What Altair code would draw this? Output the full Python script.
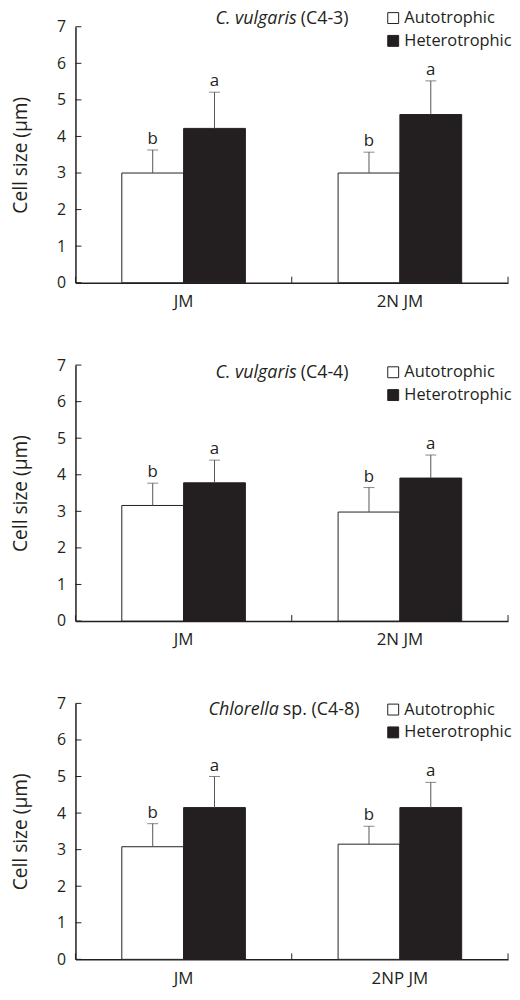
import altair as alt
import pandas as pd

FONT = "Open Sans"
DARK = "#231f20"

series = ["Autotrophic", "Heterotrophic"]
title_italic = ["C. vulgaris", "C. vulgaris", "Chlorella"]
title_rest = ["(C4-3)", "(C4-4)", "sp. (C4-8)"]
categories = [["JM", "2N JM"], ["JM", "2N JM"], ["JM", "2NP JM"]]
auto_mean = [[3.00, 3.00], [3.16, 2.98], [3.08, 3.15]]
auto_err = [[0.63, 0.57], [0.61, 0.67], [0.63, 0.49]]
het_mean = [[4.22, 4.60], [3.78, 3.91], [4.15, 4.15]]
het_err = [[0.99, 0.92], [0.62, 0.63], [0.85, 0.69]]
auto_letter = ["b", "b"]
het_letter = ["a", "a"]
y_ticks = [0, 1, 2, 3, 4, 5, 6, 7]

W, H = 436, 258
# layout positions (pixels relative to plot area)
title_y = [-8, 8, 7]
split_x = [223, 223, 205]
legend_x = 312


def panel(i):
    rows = []
    for j, c in enumerate(categories[i]):
        rows.append(dict(cat=c, series=series[0], mean=auto_mean[i][j],
                         top=auto_mean[i][j] + auto_err[i][j], letter=auto_letter[j]))
        rows.append(dict(cat=c, series=series[1], mean=het_mean[i][j],
                         top=het_mean[i][j] + het_err[i][j], letter=het_letter[j]))
    df = pd.DataFrame(rows)

    xsc = alt.Scale(domain=categories[i], paddingInner=0, paddingOuter=0)
    ysc = alt.Scale(domain=[0, 7], nice=False)
    xax = alt.Axis(title=None, labelAngle=0, ticks=False, tickSize=0,
                   labelPadding=11, labelFontSize=17, labelFont=FONT)
    yax = alt.Axis(values=y_ticks, tickCount=8, labelOverlap=False,
                   ticks=False, tickSize=0, labelPadding=10,
                   title="Cell size (μm)", titlePadding=26,
                   labelFontSize=16, titleFontSize=19.3, titleFontWeight="normal",
                   labelFont=FONT, titleFont=FONT)
    x = alt.X("cat:N", sort=categories[i], scale=xsc, axis=xax)
    xo = alt.XOffset("series:N", sort=series,
                     scale=alt.Scale(paddingInner=0, paddingOuter=0.75))
    y = alt.Y("mean:Q", scale=ysc, axis=yax)

    bars = alt.Chart().mark_bar(stroke=DARK, strokeWidth=1).encode(
        color=alt.Color("series:N", sort=series,
                        scale=alt.Scale(domain=series, range=["white", DARK]),
                        legend=alt.Legend(orient="none", legendX=legend_x,
                                          legendY=title_y[i] - 9, title=None)))
    err = alt.Chart().mark_rule(color="#555", strokeWidth=1).encode(y2="top:Q")
    cap = alt.Chart().transform_calculate(mean="datum.top").mark_tick(
        orient="horizontal", size=11, thickness=1, color="#555")
    lab = alt.Chart().transform_calculate(mean="datum.top").mark_text(
        baseline="bottom", dy=-2, fontSize=17, font=FONT, color=DARK).encode(text="letter:N")
    main = alt.layer(bars, err, cap, lab, data=df).encode(x=x, xOffset=xo, y=y)

    # inward tick marks on both axes
    tdf_y = pd.DataFrame({"mean": y_ticks})
    yt = alt.Chart(tdf_y).mark_rule(color=DARK, strokeWidth=1).encode(
        y=y, x=alt.value(0), x2=alt.value(6))
    cdf = pd.DataFrame({"cat": categories[i]})
    xt0 = alt.Chart(cdf).mark_rule(color=DARK, strokeWidth=1).encode(
        x=alt.X("cat:N", sort=categories[i], scale=xsc, axis=xax, bandPosition=0),
        y=alt.value(H), y2=alt.value(H - 6))
    xt1 = alt.Chart(cdf).transform_filter(
        alt.datum.cat == categories[i][-1]).mark_rule(color=DARK, strokeWidth=1).encode(
        x=alt.X("cat:N", sort=categories[i], scale=xsc, axis=xax, bandPosition=1),
        y=alt.value(H), y2=alt.value(H - 6))

    tdf = pd.DataFrame({"a": [title_italic[i]], "b": [title_rest[i]]})
    t1 = alt.Chart(tdf).mark_text(align="right", baseline="middle", fontStyle="italic",
                                  fontSize=18, font=FONT, color=DARK).encode(
        x=alt.value(split_x[i]), y=alt.value(title_y[i]), text="a:N")
    t2 = alt.Chart(tdf).mark_text(align="left", baseline="middle",
                                  fontSize=18, font=FONT, color=DARK).encode(
        x=alt.value(split_x[i] + 4), y=alt.value(title_y[i]), text="b:N")
    return alt.layer(main, yt, xt0, xt1, t1, t2).properties(width=W, height=H)


chart = alt.vconcat(panel(0), panel(1), panel(2), spacing=48).resolve_scale(
    color="independent"
).properties(padding={"left": 3, "top": -2, "right": 0, "bottom": 0}).configure_view(
    stroke=None
).configure_axis(
    grid=False, domainColor=DARK, tickColor=DARK, labelColor=DARK, titleColor=DARK,
    labelFont=FONT, titleFont=FONT, domainWidth=1.5,
    labelFontSize=16, titleFontSize=19.3, titleFontWeight="normal"
).configure_legend(
    symbolType="square", symbolSize=121, symbolStrokeColor=DARK, symbolStrokeWidth=1,
    labelFontSize=16.5, labelFont=FONT, labelColor=DARK, rowPadding=6, labelOffset=3,
    padding=0
)

chart.save("out.html", embed_options={"renderer": "svg", "actions": False})
